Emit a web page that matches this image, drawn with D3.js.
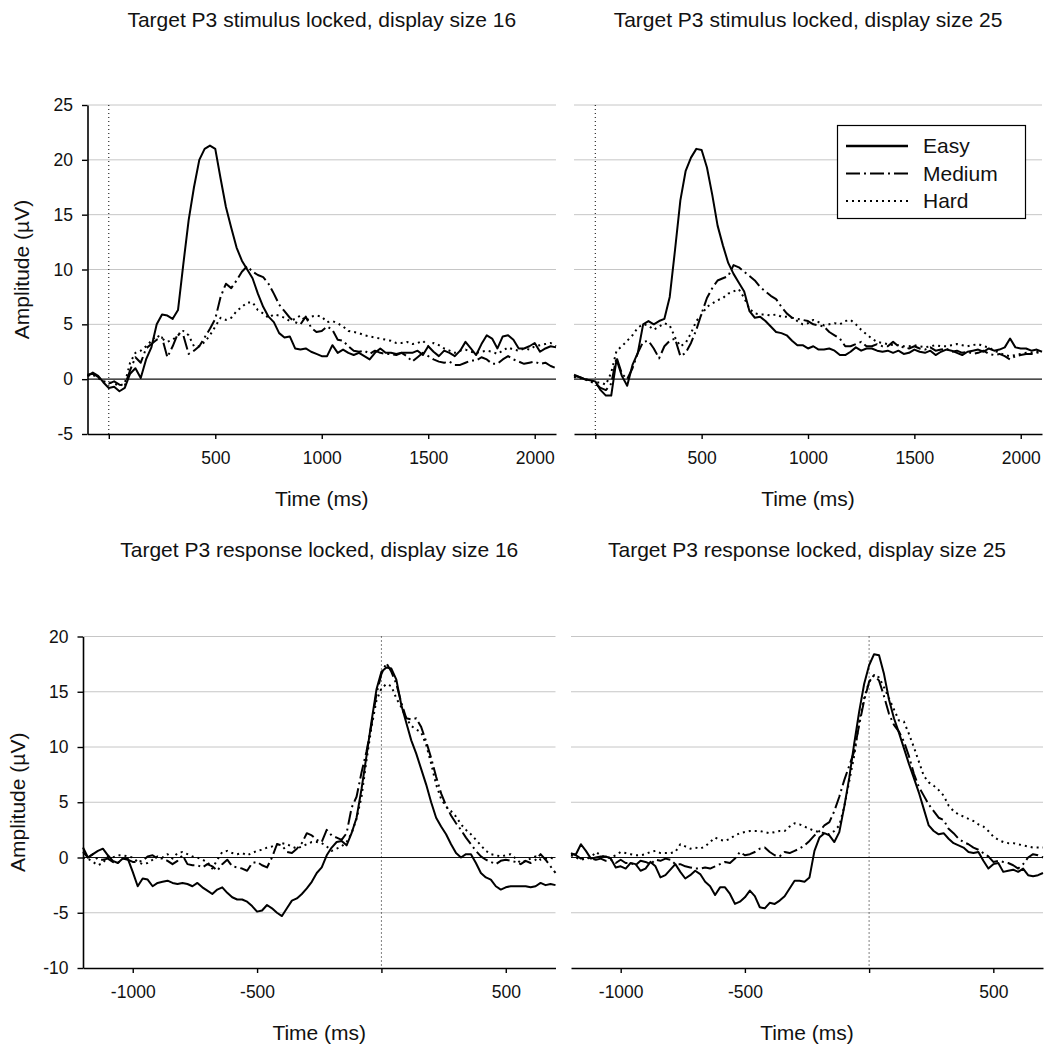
<!DOCTYPE html>
<html><head><meta charset="utf-8">
<script src="https://cdn.jsdelivr.net/npm/d3@7/dist/d3.min.js"></script>
<style>
body{margin:0;background:#fff;}
svg{display:block;font-family:"Liberation Sans",Arial,Helvetica,sans-serif;}
</style></head><body>
<svg id="chart" width="1044" height="1046"></svg>
<script>
// ---------- data ----------
const stimTime = [-100,-75,-50,-25,0,25,50,75,100,125,150,175,200,225,250,275,300,325,350,375,400,425,450,475,500,525,550,575,600,625,650,675,700,725,750,775,800,825,850,875,900,925,950,975,1000,1025,1050,1075,1100,1125,1150,1175,1200,1225,1250,1275,1300,1325,1350,1375,1400,1425,1450,1475,1500,1525,1550,1575,1600,1625,1650,1675,1700,1725,1750,1775,1800,1825,1850,1875,1900,1925,1950,1975,2000,2025,2050,2075,2100];
const respTime = [-1200,-1180,-1160,-1140,-1120,-1100,-1080,-1060,-1040,-1020,
 -1000,-980,-960,-940,-920,-900,-880,-860,-840,-820,
 -800,-780,-760,-740,-720,-700,-680,-660,-640,-620,
 -600,-580,-560,-540,-520,-500,-480,-460,-440,-420,
 -400,-380,-360,-340,-320,-300,-280,-260,-240,-220,
 -200,-180,-160,-140,-120,-100,-80,-60,-40,-20,
 0,20,40,60,80,100,120,140,160,180,
 200,220,240,260,280,300,320,340,360,380,
 400,420,440,460,480,500,520,540,560,580,
 600,620,640,660,680,700];

const seriesNames = ["Easy","Medium","Hard"];

const stim16Easy = [0.3,0.6,0.3,-0.3,-0.8,-0.7,-1.1,-0.8,0.5,1.0,
 0.1,1.8,2.9,5.0,5.9,5.8,5.5,6.3,10.5,14.5,
 17.5,20.0,21.0,21.3,21.0,18.3,15.7,13.8,12.0,10.8,
 10.0,9.2,7.8,6.6,5.7,5.2,4.2,3.8,3.9,2.8,
 2.7,2.8,2.5,2.3,2.1,2.1,3.1,2.4,2.7,2.4,
 2.2,2.4,2.1,1.8,2.4,2.8,2.4,2.4,2.3,2.4,
 2.4,2.4,2.6,2.2,3.0,2.5,2.1,2.6,2.4,2.1,
 2.6,3.4,2.8,2.2,3.2,4.0,3.7,2.8,3.9,4.0,
 3.6,2.8,2.8,3.0,3.3,2.5,2.8,3.0,2.9];
const stim16Medium = [0.4,0.5,0.2,-0.2,-0.4,-0.2,-0.5,-0.6,0.8,2.0,
 1.5,2.8,3.2,3.6,3.8,2.0,3.0,4.2,4.0,2.3,
 2.6,3.0,3.8,4.6,5.5,7.5,8.7,8.3,9.0,9.8,
 10.3,9.8,9.5,9.3,8.7,7.8,6.8,6.2,5.6,5.2,
 5.0,5.7,4.7,4.3,4.4,4.8,4.5,3.6,3.5,3.0,
 2.6,2.5,2.6,2.3,2.6,2.4,2.3,2.3,2.2,2.4,
 2.1,1.6,2.0,2.4,2.1,1.8,1.6,1.5,1.6,1.3,
 1.3,1.5,1.7,1.7,2.0,1.8,1.4,1.4,1.8,2.1,
 1.8,1.6,1.4,1.5,1.6,1.4,1.5,1.2,1.0];
const stim16Hard = [0.3,0.4,0.1,-0.2,-0.3,-0.4,-0.6,-0.4,1.5,2.4,
 2.6,3.0,3.5,4.0,3.7,3.4,3.6,4.0,4.4,4.0,
 3.0,3.0,3.4,4.0,4.8,5.6,5.4,5.6,6.2,6.6,
 7.0,7.0,6.3,6.0,5.6,5.9,5.8,5.6,5.3,5.5,
 5.8,5.3,5.7,5.8,5.7,5.2,5.3,5.1,4.8,4.4,
 4.3,4.2,4.0,3.9,3.8,3.7,3.6,3.5,3.3,3.3,
 3.4,3.2,3.3,3.5,3.0,3.3,3.1,2.8,2.6,2.4,
 2.6,2.7,2.5,2.4,2.5,2.6,2.5,2.3,2.6,2.9,
 2.7,2.6,2.8,2.7,3.0,3.1,3.2,3.3,3.0];

const stim25Easy = [0.4,0.2,0.0,-0.1,-0.2,-1.0,-1.5,-1.5,1.8,0.3,
 -0.6,1.3,2.4,5.0,5.3,5.0,5.3,5.5,7.5,11.8,
 16.3,19.0,20.2,21.0,20.9,19.3,16.8,14.0,12.2,10.6,
 9.6,8.8,8.0,6.2,5.6,5.7,5.3,4.8,4.3,4.2,
 4.0,3.5,3.1,3.1,2.8,3.0,2.7,2.7,2.8,2.6,
 2.2,2.2,2.5,2.9,2.6,2.8,2.8,2.6,2.5,2.6,
 2.4,2.6,2.3,2.4,2.7,2.5,2.4,2.6,2.2,2.5,
 2.7,2.6,2.4,2.2,2.5,2.6,2.7,2.5,2.8,2.6,
 2.7,2.9,3.7,2.9,2.8,2.8,2.6,2.7,2.5];
const stim25Medium = [0.3,0.2,0.0,-0.2,-0.4,-0.8,-1.0,-0.4,2.0,0.5,
 0.0,1.0,2.4,3.4,3.5,2.8,1.9,3.0,3.5,3.7,
 2.1,2.4,3.3,4.5,6.0,7.4,8.3,9.0,9.2,9.4,
 10.4,10.2,9.8,9.4,9.0,8.4,8.0,7.6,7.3,6.6,
 6.0,5.6,5.5,5.4,5.3,5.0,4.9,4.8,4.3,4.0,
 3.7,3.0,3.0,3.2,3.4,3.0,3.0,3.2,3.0,3.0,
 3.4,3.0,2.9,2.8,3.0,2.8,2.7,2.9,2.6,2.7,
 2.8,2.5,2.6,2.4,2.5,2.3,2.4,2.6,2.3,2.2,
 2.3,2.1,1.8,2.1,2.2,2.3,2.3,2.4,2.5];
const stim25Hard = [0.2,0.1,0.0,-0.1,-0.3,-0.3,-0.5,0.6,2.6,3.0,
 3.5,4.0,4.7,5.0,4.9,4.5,4.8,5.1,4.9,3.8,
 3.0,3.3,4.2,5.3,5.9,6.6,6.9,7.2,7.4,7.8,
 8.0,8.2,7.4,6.4,6.0,5.9,5.9,5.8,5.9,5.7,
 5.7,5.6,5.3,5.0,5.1,5.4,5.2,4.9,5.0,5.1,
 5.0,5.3,5.4,5.0,4.5,4.1,3.7,3.4,3.3,3.2,
 3.1,3.1,3.0,3.0,3.1,3.0,2.9,3.0,3.1,3.0,
 3.0,3.1,3.2,3.1,3.0,3.1,3.2,3.0,2.9,2.6,
 2.4,2.2,2.1,2.2,2.3,2.4,2.4,2.5,2.6];

const resp16Easy = [0.9,0.0,0.3,0.6,0.8,0.2,-0.3,-0.5,-0.1,-0.1,
 -1.3,-2.6,-1.9,-2.0,-2.6,-2.3,-2.2,-2.1,-2.3,-2.4,
 -2.3,-2.4,-2.6,-2.3,-2.7,-3.0,-3.3,-2.9,-2.7,-3.2,
 -3.6,-3.8,-3.8,-4.0,-4.4,-4.9,-4.8,-4.3,-4.6,-5.0,
 -5.3,-4.6,-3.9,-3.7,-3.3,-2.8,-2.2,-1.4,-0.9,0.2,
 0.9,1.4,1.5,1.1,2.2,3.6,6.2,9.2,12.3,15.2,
 16.8,17.2,17.1,16.1,13.8,12.2,10.6,9.4,8.0,6.6,
 5.0,3.6,2.8,2.1,1.2,0.4,0.0,0.3,0.3,-0.5,
 -1.4,-1.8,-2.0,-2.6,-2.9,-2.7,-2.6,-2.6,-2.6,-2.6,
 -2.7,-2.6,-2.3,-2.5,-2.4,-2.5];
const resp16Medium = [0.5,0.0,0.3,-0.2,-0.2,-0.1,-0.4,-0.5,-0.1,-0.2,
 -0.4,-0.4,-0.3,0.1,0.2,-0.1,-0.1,-0.3,-0.6,-0.3,
 0.2,-0.6,-0.7,-0.7,-0.9,-0.6,-0.8,-1.2,-0.6,-0.2,
 -0.8,-0.9,-1.0,-1.2,-0.5,-0.4,-0.7,-0.9,0.0,1.2,
 1.1,0.5,0.4,0.8,1.3,2.2,2.0,1.6,1.4,2.5,
 2.0,1.8,1.6,2.2,4.5,5.5,7.7,9.6,12.0,14.8,
 16.6,17.6,16.8,15.7,14.0,12.6,12.5,12.6,11.8,10.5,
 9.0,7.3,5.8,4.7,3.8,3.1,2.5,1.8,1.2,0.6,
 0.1,-0.2,-0.4,-0.6,-0.3,-0.2,-0.3,-0.4,-0.6,-0.3,
 -0.5,-0.2,0.3,-0.2,-0.8,-1.4];
const resp16Hard = [0.0,-0.1,-0.4,-0.7,-0.5,0.1,0.0,0.2,0.2,0.1,
 0.0,-0.4,-0.6,-0.5,-0.2,0.1,0.0,0.3,-0.1,0.4,
 0.5,0.3,0.1,0.0,-0.2,-0.4,-1.0,-0.2,0.5,0.6,
 0.4,0.3,0.4,0.2,0.4,0.6,0.7,0.9,1.0,1.2,
 1.3,1.2,1.0,0.8,1.0,1.2,1.4,1.4,1.3,1.0,
 0.6,0.8,1.0,1.4,2.2,3.5,5.5,8.8,11.8,14.2,
 15.3,15.7,15.5,14.4,13.6,12.6,11.9,11.6,11.3,10.2,
 8.5,6.6,5.3,4.6,4.2,3.7,3.0,2.5,2.1,1.6,
 1.1,0.6,0.3,0.2,0.1,0.2,0.3,-0.1,-0.5,-0.3,
 -0.1,0.1,-0.2,-0.1,0.0,-0.2];

const resp25Easy = [0.3,0.3,1.2,0.6,-0.1,0.0,0.1,0.1,-0.1,-0.9,
 -0.8,-1.0,-0.5,-0.6,-1.2,-1.0,-0.4,-0.8,-1.8,-1.6,
 -1.1,-0.6,-1.3,-1.9,-1.6,-1.2,-1.5,-2.2,-2.6,-3.4,
 -2.7,-2.7,-3.3,-4.2,-4.0,-3.6,-3.0,-3.5,-4.5,-4.6,
 -4.1,-4.2,-3.9,-3.5,-2.8,-2.1,-2.1,-2.2,-1.8,0.6,
 1.8,2.2,2.0,1.4,2.3,4.6,7.2,10.3,13.2,15.7,
 17.4,18.4,18.3,16.6,14.3,12.6,11.3,9.9,8.5,7.2,
 5.9,4.4,2.9,2.4,2.1,2.2,1.7,1.3,1.1,0.9,
 0.5,0.4,0.5,-0.3,-1.0,-0.6,-0.5,-1.3,-1.2,-1.1,
 -1.3,-1.0,-1.6,-1.7,-1.6,-1.4];
const resp25Medium = [0.4,0.2,-0.1,0.0,-0.1,-0.2,-0.1,-0.3,-0.2,-0.5,
 -0.2,-0.5,-0.5,-0.7,-0.3,-0.4,-0.6,-0.2,-0.3,-0.1,
 -0.2,-0.6,-0.6,-0.8,-0.9,-1.0,-1.0,-0.9,-1.0,-0.8,
 -0.6,-0.4,-0.5,-0.1,0.5,0.2,0.3,0.5,0.8,0.9,
 0.5,0.2,0.1,0.5,0.4,0.6,0.8,1.1,1.5,2.0,
 2.4,2.9,3.2,4.2,5.5,7.0,8.3,9.6,12.0,14.2,
 15.9,16.5,16.0,14.6,13.0,12.0,11.4,10.5,9.2,7.6,
 6.4,5.6,4.8,4.2,3.6,3.4,2.6,2.2,1.7,1.4,
 1.2,0.9,0.7,0.4,0.1,-0.4,-0.3,-0.4,-0.5,-0.7,
 -1.0,-0.6,0.0,0.3,0.2,0.0];
const resp25Hard = [0.2,0.0,-0.2,-0.1,0.0,0.5,0.2,0.0,0.0,0.2,
 0.5,0.4,0.3,0.2,0.2,0.3,0.5,0.6,0.4,0.4,
 0.4,0.5,1.2,1.0,0.8,0.9,0.8,1.0,1.4,1.8,
 1.6,1.5,1.7,2.0,2.2,2.3,2.4,2.4,2.4,2.3,
 2.2,2.3,2.4,2.4,2.8,3.1,3.0,2.8,2.6,2.4,
 2.3,2.2,2.1,2.4,2.9,4.6,6.9,9.2,12.3,14.4,
 15.9,16.5,16.3,15.4,14.4,13.4,12.4,12.3,11.2,10.0,
 8.7,7.4,6.8,6.5,6.1,5.6,4.7,4.2,3.9,3.7,
 3.5,3.3,3.0,2.8,2.4,1.9,1.6,1.4,1.3,1.3,
 1.2,1.1,1.0,0.9,0.9,0.9];

const panelTitles = ["Target P3 stimulus locked, display size 16","Target P3 stimulus locked, display size 25",
  "Target P3 response locked, display size 16","Target P3 response locked, display size 25"];
const stimXTicks = [0,500,1000,1500,2000];
const respXTicks = [-1000,-500,0,500];
const stimYTicks = [-5,0,5,10,15,20,25];
const respYTicks = [-10,-5,0,5,10,15,20];
const xTitle = "Time (ms)";
const yTitle = "Amplitude (\u00B5V)";

// ---------- layout / style ----------
const panels = [
  {title:panelTitles[0], time:stimTime, series:[stim16Easy,stim16Medium,stim16Hard], xDom:[-100,2100], yDom:[-5,25], xTicks:stimXTicks, yTicks:stimYTicks,
   x0:87.5, x1:556, y0:105, y1:434, yAxis:true, legend:false, titleY:27, yTitleX:22},
  {title:panelTitles[1], time:stimTime, series:[stim25Easy,stim25Medium,stim25Hard], xDom:[-100,2100], yDom:[-5,25], xTicks:stimXTicks, yTicks:stimYTicks,
   x0:574, x1:1042, y0:105, y1:434, yAxis:false, legend:true, titleY:27},
  {title:panelTitles[2], time:respTime, series:[resp16Easy,resp16Medium,resp16Hard], xDom:[-1200,700], yDom:[-10,20], xTicks:respXTicks, yTicks:respYTicks,
   x0:83, x1:555.5, y0:636.5, y1:968, yAxis:true, legend:false, titleY:557, yTitleX:18},
  {title:panelTitles[3], time:respTime, series:[resp25Easy,resp25Medium,resp25Hard], xDom:[-1200,700], yDom:[-10,20], xTicks:respXTicks, yTicks:respYTicks,
   x0:571, x1:1043, y0:636.5, y1:968, yAxis:false, legend:false, titleY:557}
];
const lineStyle = [
  {dash:null, width:2},
  {dash:"14,4,2,4", width:2},
  {dash:"2,4", width:2}
];
const TITLE_FS = 21, TICK_FS = 17.5;
const fmt = d => String(d); // plain hyphen-minus like the original

const svg = d3.select("#chart");

panels.forEach(p => {
  const x = d3.scaleLinear().domain(p.xDom).range([p.x0, p.x1]);
  const y = d3.scaleLinear().domain(p.yDom).range([p.y1, p.y0]);
  const g = svg.append("g");

  // gridlines
  g.append("g").selectAll("line")
    .data(p.yTicks.filter(v => v !== 0 && v !== p.yDom[0]))
    .join("line")
    .attr("x1", p.x0).attr("x2", p.x1)
    .attr("y1", d => y(d)).attr("y2", d => y(d))
    .attr("stroke", "#c6c6c6").attr("stroke-width", 1);

  // zero line
  g.append("line").attr("x1", p.x0).attr("x2", p.x1)
    .attr("y1", y(0)).attr("y2", y(0))
    .attr("stroke", "#111").attr("stroke-width", 1.1);

  // dotted event marker at t=0
  g.append("line").attr("x1", x(0)).attr("x2", x(0))
    .attr("y1", p.y0).attr("y2", p.y1)
    .attr("stroke", "#000").attr("stroke-width", 1)
    .attr("stroke-dasharray", "1,3");

  // series
  const lineGen = d3.line().x((d,i) => x(p.time[i])).y(d => y(d));
  p.series.forEach((vals, si) => {
    const st = lineStyle[si];
    g.append("path").datum(vals)
      .attr("d", lineGen)
      .attr("fill", "none").attr("stroke", "#000")
      .attr("stroke-width", st.width)
      .attr("stroke-linejoin", "round")
      .attr("stroke-dasharray", st.dash);
  });

  // x axis
  const xa = d3.axisBottom(x).tickValues(p.xTicks)
    .tickFormat(d => d === 0 ? "" : fmt(d))
    .tickSize(5).tickSizeOuter(0).tickPadding(13);
  const gx = g.append("g").attr("transform", `translate(0,${p.y1})`).call(xa);
  gx.select(".domain").attr("stroke", "#000").attr("stroke-width", 1.6);
  gx.selectAll(".tick line").attr("stroke", "#000").attr("stroke-width", 1.4);
  gx.selectAll("text").attr("font-size", TICK_FS).attr("fill", "#111")
    .attr("font-family", '"Liberation Sans",Arial,sans-serif');

  // y axis
  if (p.yAxis) {
    const ya = d3.axisLeft(y).tickValues(p.yTicks).tickFormat(fmt)
      .tickSize(5.5).tickSizeOuter(0).tickPadding(9);
    const gy = g.append("g").attr("transform", `translate(${p.x0},0)`).call(ya);
    gy.select(".domain").attr("stroke", "#000").attr("stroke-width", 1.6);
    gy.selectAll(".tick line").attr("stroke", "#000").attr("stroke-width", 1.4);
    gy.selectAll("text").attr("font-size", TICK_FS).attr("fill", "#111")
      .attr("font-family", '"Liberation Sans",Arial,sans-serif');
    g.append("text")
      .attr("transform", `translate(${p.yTitleX},${(p.y0+p.y1)/2}) rotate(-90)`)
      .attr("text-anchor", "middle").attr("dy", "0.35em")
      .attr("font-size", TITLE_FS).attr("fill", "#111")
      .text(yTitle);
  }

  // x title
  g.append("text").attr("x", (p.x0+p.x1)/2).attr("y", p.y1 + 72)
    .attr("text-anchor", "middle").attr("font-size", TITLE_FS).attr("fill", "#111")
    .text(xTitle);

  // panel title
  g.append("text").attr("x", (p.x0+p.x1)/2).attr("y", p.titleY)
    .attr("text-anchor", "middle").attr("font-size", TITLE_FS).attr("fill", "#111")
    .text(p.title);

  // legend
  if (p.legend) {
    const lg = g.append("g");
    lg.append("rect").attr("x", 837.5).attr("y", 125.5).attr("width", 188).attr("height", 93)
      .attr("fill", "#fff").attr("stroke", "#000").attr("stroke-width", 1.2);
    seriesNames.forEach((name, si) => {
      const ly = 146 + si * 27.5;
      lg.append("line").attr("x1", 846).attr("x2", 908).attr("y1", ly).attr("y2", ly)
        .attr("stroke", "#000").attr("stroke-width", si === 0 ? 2.5 : 2)
        .attr("stroke-dasharray", lineStyle[si].dash);
      lg.append("text").attr("x", 923).attr("y", ly).attr("dy", "0.35em")
        .attr("font-size", TITLE_FS).attr("fill", "#111").text(name);
    });
  }
});
</script>
</body></html>
